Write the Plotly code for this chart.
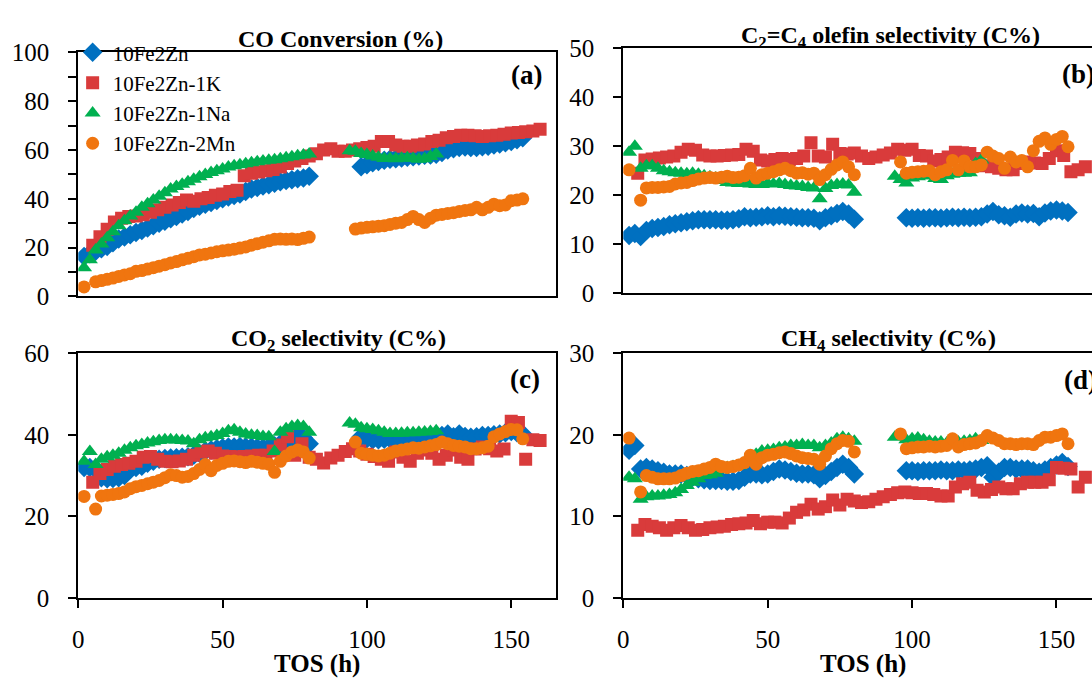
import plotly.graph_objects as go

# ---------------- data (TOS in h) ----------------
TOS_ZN = [2, 4, 6, 8, 10, 12, 14, 16, 18, 20, 22, 24, 26, 28, 30, 32, 34, 36, 38, 40,
          42, 44, 46, 48, 50, 52, 54, 56, 58, 60, 62, 64, 66, 68, 70, 72, 74, 76, 78, 80,
          98, 100, 102, 104, 106, 108, 110, 112, 114, 116, 118, 120, 122, 124, 126, 128,
          130, 132, 134, 136, 138, 140, 142, 144, 146, 148, 150, 152, 154]
TOS_K = [5, 7.5, 10, 12.5, 15, 17.5, 20, 22.5, 25, 27.5, 30, 32.5, 35, 37.5, 40, 42.5,
         45, 47.5, 50, 52.5, 55, 57.5, 60, 62.5, 65, 67.5, 70, 72.5, 75, 77.5, 80, 82.5,
         85, 87.5, 90, 92.5, 95, 97.5, 100, 102.5, 105, 107.5, 110, 112.5, 115, 117.5,
         120, 122.5, 125, 127.5, 130, 132.5, 135, 137.5, 140, 142.5, 145, 147.5, 150,
         152.5, 155, 157.5, 160]
TOS_NA = [2, 4, 6, 8, 10, 12, 14, 16, 18, 20, 22, 24, 26, 28, 30, 32, 34, 36, 38, 40,
          42, 44, 46, 48, 50, 52, 54, 56, 58, 60, 62, 64, 66, 68, 70, 72, 74, 76, 78, 80,
          94, 96, 98, 100, 102, 104, 106, 108, 110, 112, 114, 116, 118, 120, 122, 124]
TOS_MN = [2, 6, 8, 10, 12, 14, 16, 18, 20, 22, 24, 26, 28, 30, 32, 34, 36, 38, 40,
          42, 44, 46, 48, 50, 52, 54, 56, 58, 60, 62, 64, 66, 68, 70, 72, 74, 76, 78, 80,
          96, 98, 100, 102, 104, 106, 108, 110, 112, 114, 116, 118, 120, 122, 124, 126,
          128, 130, 132, 134, 136, 138, 140, 142, 144, 146, 148, 150, 152, 154]

SERIES_NAMES = ["10Fe2Zn", "10Fe2Zn-1K", "10Fe2Zn-1Na", "10Fe2Zn-2Mn"]

# (a) CO conversion (%)
CO_ZN = [16.4, 17.5, 18.5, 19.5, 20.5, 22, 23.5, 24.3, 25.3, 26.2, 27, 28, 29, 30, 30.8,
         31.8, 32.8, 33.8, 34.8, 36, 37, 37.8, 38.5, 39.3, 40, 40.7, 41.4, 42, 43, 44,
         44.6, 45.2, 45.8, 46.4, 47, 47.5, 47.8, 48.2, 48.5, 49.2,
         53.1, 54, 54.8, 55.3, 55.8, 56.2, 56.4, 56.7, 57, 57.2, 57.5, 57.8, 58, 58.3, 59,
         60, 60.5, 61, 61.2, 61, 61, 61.3, 61.5, 62, 62.5, 63, 63.5, 64.2, 65]
CO_K = [21, 24.5, 27.5, 30.5, 32, 32.8, 33, 33.5, 34.5, 35.5, 36.5, 37.5, 38.5, 39.5, 39,
        40, 40.5, 41.5, 42, 43, 43.5, 49.5, 50.5, 51, 51.5, 52, 53, 54.5, 55.5, 56.5, 57.5,
        58.5, 60, 60.5, 59.5, 59.5, 60, 60.5, 61, 61.5, 63.5, 63.5, 62, 61.5, 61.5, 62,
        62.5, 63.5, 64, 65, 65.5, 66, 66, 65.8, 65.5, 65.8, 66, 66.5, 67, 67.2, 67.5, 67.8,
        68.5]
CO_NA = [11.8, 15, 19, 21.5, 24, 26.5, 29, 31, 33, 34.5, 36.5, 38, 39.5, 41, 42.5, 44, 45,
         46, 47, 48, 49, 50, 50.8, 51.5, 52.2, 53, 53.5, 54, 54.4, 54.8, 55.2, 55.5, 55.8,
         56, 56.4, 56.8, 57.2, 57.6, 58, 58.4,
         59.7, 59.5, 58.6, 58.2, 57.5, 57, 56.5, 56.5, 56.4, 56.6, 56.8, 56.5, 56.2, 56.4,
         57.3, 58.4]
CO_MN = [3.9, 6, 6.5, 7, 7.5, 8.2, 8.8, 9.3, 10.3, 10.6, 11.2, 11.8, 12.4, 13, 13.7, 14.3,
         15, 15.6, 16.3, 17, 17.3, 17.8, 18.3, 18.7, 19, 19.3, 19.8, 20.3, 21, 21.6, 22.2,
         22.8, 23.4, 23.5, 23.4, 23.5, 23.3, 23.8, 24.3,
         27.6, 28, 28.3, 28.5, 28.8, 29, 29.5, 30, 30.3, 31.5, 32.8, 31.5, 30.3, 32, 33.3,
         33.6, 34, 34.3, 34.8, 35.2, 35.5, 36.5, 35.5, 36.5, 37.8, 37.2, 37.5, 39.2, 39.5, 40]

# (b) C2=C4 olefin selectivity (C%)
OL_ZN = [11.8, 12.2, 11.6, 12.8, 13.2, 13.4, 13.6, 14, 14.2, 14.4, 14.6, 14.8, 15, 15, 15,
         15, 14.9, 14.9, 15, 15.2, 15.6, 15.4, 15.5, 15.6, 15.8, 15.6, 15.8, 15.7, 15.6,
         15.5, 15.4, 15.4, 15.3, 14.8, 15.4, 15.8, 16.3, 16.7, 16.2, 15.1,
         15.4, 15.3, 15.4, 15.3, 15.4, 15.4, 15.3, 15.4, 15.5, 15.4, 15.5, 15.4, 15.5, 15.6,
         16.2, 16.7, 16, 15.8, 15.5, 16.2, 16.4, 16.2, 16.3, 15.6, 16.4, 16.8, 17, 16.8, 16.5]
OL_K = [24.5, 27.2, 27.4, 27.6, 27.8, 28, 28.8, 29.4, 29.2, 28.2, 28, 28, 28.1, 28.2, 28.3,
        29.4, 29, 27.2, 27, 27.3, 27.5, 27.3, 27.5, 28, 30.7, 28, 27.8, 30.4, 28.5, 28.4,
        28.6, 28, 27.5, 27.8, 28.2, 28.6, 29.4, 29.2, 29.4, 28.1, 28, 27, 27.3, 27.8, 28.8,
        28.7, 28.5, 27.5, 26, 25.8, 25.5, 25.2, 25.2, 26.5, 26.8, 26.6, 26.5, 27.5, 29.1,
        28.1, 24.8, 25.2, 25.8]
OL_NA = [28.8, 30, 25.5, 26, 26, 25.5, 25, 24.8, 24.6, 24.5, 24.4, 24.5, 24.3, 24, 23.8,
         23.5, 23, 22.6, 22.5, 22.4, 22.5, 22.3, 22.2, 22.2, 22.4, 22.3, 22.4, 22.2, 22,
         21.9, 21.8, 21.6, 21.5, 19.3, 21.4, 22, 22.2, 22.3, 22.1, 20.6,
         23.9, 23.2, 22.5, 23.5, 23.8, 24, 24, 23.4, 23.2, 24, 24.3, 24.5, 24.5, 24.6, 26.5,
         27.2]
OL_MN = [25.2, 19, 21.5, 21.6, 21.6, 21.7, 21.8, 22.3, 22.5, 22.6, 23, 23.3, 23.5, 23.6,
         23.5, 23.7, 23.9, 23.6, 23.7, 24, 25.5, 23.5, 24.2, 24.5, 24.8, 25.2, 25.5, 25,
         24.5, 24.6, 24.3, 24.5, 23.2, 24.2, 25.3, 26.2, 26.8, 25.8, 24.2,
         26.8, 24.5, 24.7, 24.8, 24.9, 25, 24.2, 24.8, 25.2, 27.1, 25.2, 27, 25.8, 25.8,
         26.2, 28.8, 28, 27.5, 25.5, 27.8, 26.8, 27.1, 25.8, 29.1, 31, 31.7, 30.4, 31.4, 32,
         29.9]

# (c) CO2 selectivity (C%)
C2_ZN = [32, 32, 31.5, 29.5, 29.2, 29.3, 29.5, 30, 31.5, 32, 32.3, 33, 33.5, 34, 34.2,
         34.3, 34.4, 34.5, 34.6, 35, 35.5, 36, 36.3, 36.6, 36.8, 37, 37, 37.1, 37, 37, 36.8,
         36.8, 37, 37.3, 37.8, 38.3, 39, 39.8, 39.2, 37.8,
         39.5, 39, 38.8, 38.8, 38.9, 39, 39.1, 39, 39, 39.2, 39.3, 39.5, 39.6, 39.6, 39.8,
         40.2, 39.5, 40.2, 39.6, 39.4, 39.5, 39.8, 39.8, 40, 40.2, 40.5, 40.8, 40.5, 40.2]
C2_K = [28.4, 30.5, 31.5, 32.3, 32.7, 33, 33.5, 34.5, 34.7, 34, 33.5, 33.4, 33.6, 34, 35,
        35.8, 36, 35.5, 34.8, 34.7, 34.6, 34.7, 34.8, 35, 35, 36, 37.5, 39.5, 35, 37.8,
        34.5, 34, 33.1, 34.3, 35, 35.9, 36.6, 36, 35.2, 34.7, 34, 33.5, 35.8, 34.5, 33.5,
        35.5, 36.3, 35.5, 34, 35, 36.3, 34.5, 34, 36.5, 37, 36.6, 36, 36.5, 43.3, 43, 34,
        38.8, 38.6]
C2_NA = [33.5, 35.9, 32.7, 34, 34.6, 35, 35.5, 36.2, 36.8, 37.3, 37.6, 38, 38.3, 38.6, 38.8,
         38.8, 38.7, 38.6, 38.5, 37.8, 38.8, 39.3, 39.5, 39.8, 40.3, 41, 41.2, 40.6, 40.2,
         39.9, 39.8, 39.6, 39.5, 35.9, 40.6, 41.5, 42, 42.3, 42, 40.6,
         42.9, 42.6, 41.7, 41.5, 41.3, 41, 40.6, 40.3, 40.3, 40.4, 40.5, 40.5, 40.6, 40.7,
         40.8, 41]
C2_MN = [24.9, 21.8, 25, 25.2, 25.4, 25.6, 26, 26.8, 27.3, 27.6, 28, 28.4, 28.8, 29.5, 30.2,
         30, 29.6, 29.8, 30.5, 31.5, 32.7, 31.2, 32.5, 33, 33.5, 33.6, 33.4, 33.2, 33.5,
         33.3, 33, 32.8, 30.8, 33.5, 34.8, 35.8, 36.3, 35.8, 34.3,
         38.2, 35.5, 35.2, 35, 34.8, 35, 35.5, 36, 36.3, 36.5, 36.8, 36.7, 37, 37.3, 37.6,
         38.2, 37.8, 37.4, 37.2, 37, 36.6, 36.6, 36.8, 37.2, 39.5, 40.2, 40.8, 41.3, 41.2, 39]

# (d) CH4 selectivity (C%)
CH_ZN = [18.1, 18.7, 15.8, 16, 15.8, 15.6, 15.4, 15.2, 15.2, 15.2, 15, 14.8, 14.6, 14.5,
         14.4, 14.4, 14.4, 14.3, 14.3, 14.4, 14.8, 15.2, 15.2, 15.1, 15.2, 15.5, 15.8, 15.7,
         15.5, 15.3, 15.2, 15.2, 15.1, 14.6, 15, 15.5, 16, 16.4, 16, 15.2,
         15.6, 15.6, 15.5, 15.6, 15.6, 15.6, 15.7, 15.6, 15.6, 15.7, 15.6, 15.7, 15.8, 16,
         16.2, 14.8, 15.4, 16, 16, 15.8, 15.8, 15.8, 15.6, 15.4, 15.7, 16, 16.3, 16.6, 16.1]
CH_K = [8.3, 9, 8.8, 8.6, 8.3, 8.6, 8.9, 8.6, 8.3, 8.4, 8.6, 8.7, 8.8, 9, 9.1, 9.2, 9.5,
        9.1, 9.3, 9.3, 9.2, 9.8, 10.5, 10.8, 11.5, 10.9, 11.2, 12, 11.4, 12.1, 11.9, 11.7,
        11.8, 12.1, 12.4, 12.7, 12.9, 13, 12.9, 12.8, 12.8, 12.7, 12.5, 12.5, 13.6, 14,
        14.2, 13.2, 13, 13.3, 13.6, 13.4, 13.4, 14, 14.2, 14.2, 14.2, 14.5, 16, 15.9, 15.8,
        13.6, 14.8]
CH_NA = [14.8, 14.6, 12.1, 12.4, 12.5, 12.5, 12.6, 12.7, 12.9, 13.3, 13.8, 14.2, 14.6, 15,
         15.1, 15.3, 15.7, 16, 16.1, 16.2, 16.6, 17.2, 17.6, 18, 18.1, 18.2, 18.4, 18.5,
         18.7, 18.7, 18.8, 18.7, 18.7, 18.4, 18.7, 19, 19.5, 19.7, 19.5, 19.2,
         19.7, 19.8, 19.4, 19.5, 19.6, 19.4, 19.2, 19.1, 19.1, 19, 19.2, 19.1, 19.2, 19.3,
         19.5, 19.3]
CH_MN = [19.6, 13, 15, 14.8, 14.6, 14.6, 14.6, 14.7, 15, 15.3, 15.5, 15.6, 15.8, 16, 16.4,
         16.1, 16, 16.1, 16.3, 16.6, 17.5, 16.4, 17.2, 17.5, 17.6, 17.8, 17.9, 17.7, 17.4,
         17.2, 17.1, 17, 16.4, 17.4, 18.3, 18.9, 19.3, 19.2, 17.9,
         20.1, 18.3, 18.4, 18.5, 18.5, 18.6, 18.5, 18.6, 18.7, 19.5, 18.5, 18.8, 18.9, 19,
         19.3, 19.9, 19.6, 19.3, 18.9, 18.9, 18.8, 18.9, 18.9, 18.8, 19.3, 19.7, 19.7, 19.9,
         20.1, 18.9]

# ---------------- styling ----------------
W, H = 1092, 688
FONT = "Liberation Serif, Times New Roman, serif"
COLORS = ["#0070C0", "#D93B3B", "#00B050", "#F0750F"]
SYMBOLS = ["diamond", "square", "triangle-up", "circle"]
SIZES = [15, 13, 14, 13]
TOS_LIST = [TOS_ZN, TOS_K, TOS_NA, TOS_MN]


def fx(p):
    return p / W


def fy(p):
    return 1 - p / H


panels = [
    # (axis suffix, x px domain, y px domain (top, bottom), y max, y dtick, minor dtick,
    #  data, x tick labels?, right frame line?, x max)
    ("", (72.7, 553), (41, 295), 100, 20, 10, [CO_ZN, CO_K, CO_NA, CO_MN], False, True, 165.5),
    ("2", (620.7, 1092), (36.7, 291.7), 50, 10, None, [OL_ZN, OL_K, OL_NA, OL_MN], False, False, 162.3),
    ("3", (72.7, 553), (354, 609), 60, 20, None, [C2_ZN, C2_K, C2_NA, C2_MN], True, True, 165.5),
    ("4", (620.7, 1092), (354, 609), 30, 10, None, [CH_ZN, CH_K, CH_NA, CH_MN], True, False, 162.3),
]

fig = go.Figure()
layout = {}
for pi, (suf, xd, yd, ymax, dt, minor, data, xlab, rline, xmax) in enumerate(panels):
    for si in range(4):
        fig.add_trace(go.Scatter(
            x=TOS_LIST[si], y=data[si], mode="markers",
            name=SERIES_NAMES[si], showlegend=(pi == 0),
            marker=dict(symbol=SYMBOLS[si], size=SIZES[si], color=COLORS[si],
                        line=dict(width=0)),
            xaxis="x" + suf, yaxis="y" + suf, cliponaxis=True,
        ))
    xa = dict(domain=[fx(xd[0]), fx(xd[1])], range=[0, xmax], anchor="y" + suf,
              showgrid=False, zeroline=False, showline=True, linecolor="black",
              linewidth=2, mirror=True,
              tickfont=dict(family=FONT, size=25, color="black"))
    if xlab:
        xa.update(tickmode="array", tickvals=[0, 50, 100, 150], ticks="outside",
                  ticklen=8, tickwidth=2, tickcolor="black", ticklabelstandoff=10)
    else:
        xa.update(showticklabels=False, ticks="")
    ya = dict(domain=[fy(yd[1]), fy(yd[0])], range=[0, ymax], anchor="x" + suf,
              showgrid=False, zeroline=False, showline=True, linecolor="black",
              linewidth=2, mirror=rline, dtick=dt, tick0=0, ticks="outside",
              ticklen=8, tickwidth=2, tickcolor="black", ticklabelstandoff=14,
              tickfont=dict(family=FONT, size=25, color="black"))
    if minor:
        ya["minor"] = dict(dtick=minor, tick0=0, ticks="outside", ticklen=8,
                           tickwidth=2, tickcolor="black")
    layout["xaxis" + suf] = xa
    layout["yaxis" + suf] = ya

fig.update_layout(**layout)

ann = []
titles = [
    ("<b>CO Conversion (%)</b>", 336, 27),
    ("<b>C<sub>2</sub>=C<sub>4</sub> olefin selectivity (C%)</b>", 889, 25),
    ("<b>CO<sub>2</sub> selectivity (C%)</b>", 334, 340),
    ("<b>CH<sub>4</sub> selectivity (C%)</b>", 887, 340),
]
for t, x, y in titles:
    ann.append(dict(text=t, x=fx(x), y=fy(y), xref="paper", yref="paper",
                    xanchor="center", yanchor="middle", showarrow=False,
                    font=dict(family=FONT, size=24, color="black")))
labels = [("<b>(a)</b>", 506, 65), ("<b>(b)</b>", 1060, 64),
          ("<b>(c)</b>", 505, 381), ("<b>(d)</b>", 1062, 382)]
for t, x, y in labels:
    ann.append(dict(text=t, x=fx(x), y=fy(y), xref="paper", yref="paper",
                    xanchor="left", yanchor="middle", showarrow=False,
                    font=dict(family=FONT, size=27, color="black")))
for x in (312.8, 862):
    ann.append(dict(text="<b>TOS (h)</b>", x=fx(x), y=fy(678), xref="paper",
                    yref="paper", xanchor="center", yanchor="middle", showarrow=False,
                    font=dict(family=FONT, size=25, color="black")))

fig.update_layout(
    width=W, height=H,
    margin=dict(l=0, r=0, t=0, b=0, pad=0),
    paper_bgcolor="white", plot_bgcolor="white",
    annotations=ann,
    legend=dict(x=fx(67), y=fy(20), xanchor="left", yanchor="top",
                bgcolor="rgba(0,0,0,0)", borderwidth=0, tracegroupgap=0,
                itemsizing="trace",
                font=dict(family=FONT, size=21, color="black")),
    showlegend=True,
)

fig.write_html("out.html")
